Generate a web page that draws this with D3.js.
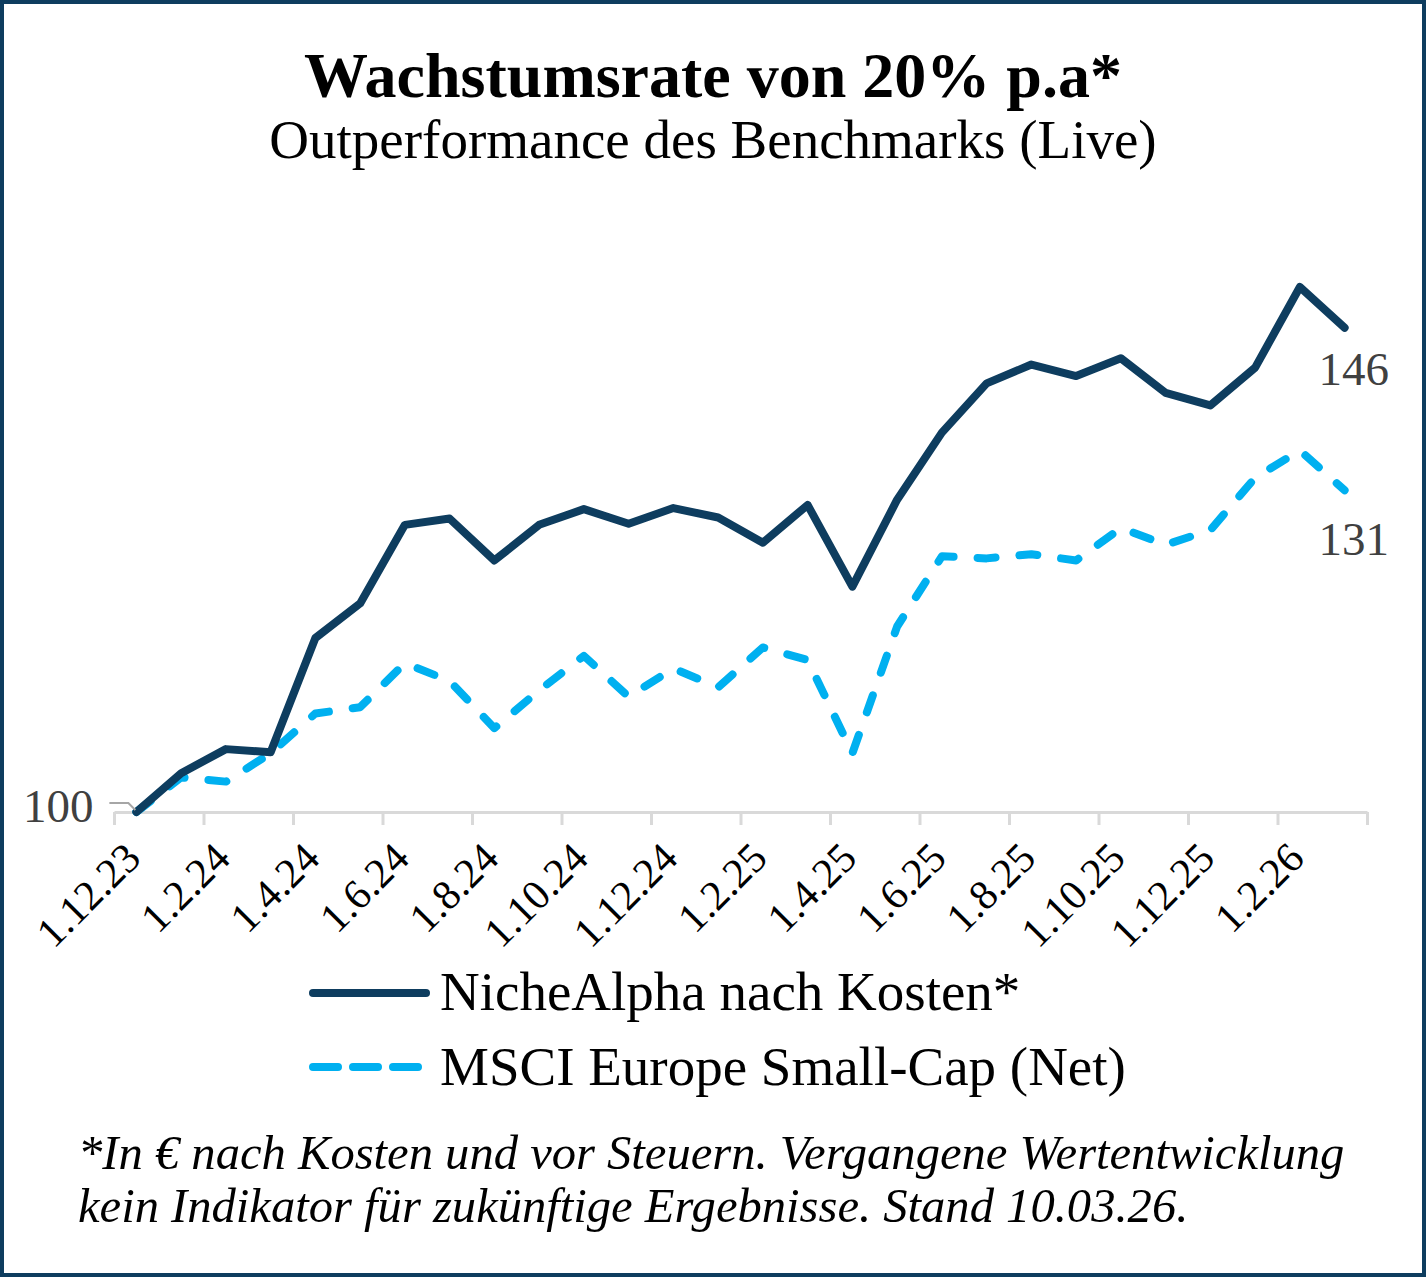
<!DOCTYPE html>
<html lang="de">
<head>
  <title>Wachstumsrate</title>
  <meta charset="UTF-8">
  <style>
    body { margin: 0; background: #fff; }
    svg { display: block; font-family: "Liberation Serif", "Times New Roman", serif; }
  </style>
  <script src="https://cdn.jsdelivr.net/npm/d3@7/dist/d3.min.js"></script>
</head>
<body>
<script>
  // monthly dates, 1.12.23 .. 1.3.26
  var dates = ["1.12.23", "1.1.24", "1.2.24", "1.3.24", "1.4.24", "1.5.24", "1.6.24", "1.7.24",
               "1.8.24", "1.9.24", "1.10.24", "1.11.24", "1.12.24", "1.1.25", "1.2.25", "1.3.25",
               "1.4.25", "1.5.25", "1.6.25", "1.7.25", "1.8.25", "1.9.25", "1.10.25", "1.11.25",
               "1.12.25", "1.1.26", "1.2.26", "1.3.26"];

  var nicheAlpha = [100, 103.7, 106.0, 105.7, 116.6, 119.9, 127.4, 128.0, 124.0, 127.4, 128.9, 127.5,
                    129.0, 128.1, 125.7, 129.3, 121.5, 129.8, 136.2, 140.9, 142.7, 141.6, 143.3, 140.0,
                    138.8, 142.4, 150.1, 146.2];

  var msci = [100, 103.3, 102.9, 105.6, 109.4, 110.0, 114.2, 112.5, 108.0, 111.6, 114.9, 111.0,
              113.7, 111.9, 115.7, 114.5, 105.6, 117.7, 124.4, 124.2, 124.6, 124.0, 127.1, 125.5,
              126.9, 131.9, 134.5, 130.7];

  var seriesNames = ["NicheAlpha nach Kosten*", "MSCI Europe Small-Cap (Net)"];

  var W = 1426, H = 1277;
  var navy = "#0e3d5f", sky = "#00b0f0";

  var svg = d3.select("body").append("svg").attr("width", W).attr("height", H);

  svg.append("rect").attr("x", 2).attr("y", 2).attr("width", W - 4).attr("height", H - 4)
    .attr("fill", "#fff").attr("stroke", navy).attr("stroke-width", 4);

  // titles
  svg.append("text").attr("x", 713).attr("y", 97).attr("text-anchor", "middle")
    .style("font-size", "64px").style("font-weight", "bold")
    .text("Wachstumsrate von 20% p.a*");
  svg.append("text").attr("x", 713).attr("y", 158).attr("text-anchor", "middle")
    .style("font-size", "55px")
    .text("Outperformance des Benchmarks (Live)");

  // scales
  var x = d3.scaleBand().domain(d3.range(dates.length)).range([114, 1367]).padding(0);
  var xEdge = d3.scaleLinear().domain([0, dates.length]).range([114, 1367]);
  var y = d3.scaleLinear().domain([100, 150]).range([812, 288]);
  var cx = function(i) { return x(i) + x.bandwidth() / 2; };

  // axis
  var axis = svg.append("g")
    .attr("transform", "translate(0,812)")
    .call(d3.axisBottom(xEdge).tickValues(d3.range(0, dates.length + 1, 2)).tickFormat("").tickSize(13).tickSizeOuter(0));
  axis.select(".domain").attr("stroke", "#d9d9d9").attr("stroke-width", 3);
  axis.selectAll(".tick line").attr("stroke", "#d9d9d9").attr("stroke-width", 3);

  svg.append("g").selectAll("text")
    .data(dates.map(function(d, i) { return {d: d, i: i}; }).filter(function(d) { return d.i % 2 === 0; }))
    .enter().append("text")
    .attr("transform", function(d) { return "translate(" + (cx(d.i) - 4) + ",850) rotate(-45)"; })
    .attr("text-anchor", "end")
    .attr("dy", "0.35em")
    .style("font-size", "42px")
    .attr("fill", "#000")
    .text(function(d) { return d.d; });

  // lines
  var line = d3.line().x(function(d, i) { return cx(i); }).y(function(d) { return y(d); });

  svg.append("path").datum(msci).attr("d", line)
    .attr("fill", "none").attr("stroke", sky).attr("stroke-width", 8)
    .attr("stroke-linecap", "round").attr("stroke-linejoin", "round")
    .attr("stroke-dasharray", "18,24");

  svg.append("path").datum(nicheAlpha).attr("d", line)
    .attr("fill", "none").attr("stroke", navy).attr("stroke-width", 8)
    .attr("stroke-linecap", "round").attr("stroke-linejoin", "round");

  // data labels
  var last = dates.length - 1;
  svg.append("text").attr("x", cx(last) + 9).attr("y", y(nicheAlpha[last]) + 57)
    .attr("text-anchor", "middle").style("font-size", "47px").attr("fill", "#404040")
    .text(Math.round(nicheAlpha[last]));
  svg.append("text").attr("x", cx(last) + 9).attr("y", y(msci[last]) + 65)
    .attr("text-anchor", "middle").style("font-size", "47px").attr("fill", "#404040")
    .text(Math.round(msci[last]));

  svg.append("path")
    .attr("d", "M" + (cx(0) - 27) + "," + (y(msci[0]) - 9) + "H" + (cx(0) - 8) + "L" + (cx(0) - 1) + "," + (y(msci[0]) - 2))
    .attr("fill", "none").attr("stroke", "#a6a6a6").attr("stroke-width", 2);
  svg.append("text").attr("x", cx(0) - 43).attr("y", y(msci[0]) + 10)
    .attr("text-anchor", "end").style("font-size", "47px").attr("fill", "#404040")
    .text(Math.round(msci[0]));

  // legend
  var legend = svg.append("g");
  legend.append("line").attr("x1", 313).attr("x2", 426).attr("y1", 993).attr("y2", 993)
    .attr("stroke", navy).attr("stroke-width", 8).attr("stroke-linecap", "round");
  legend.append("text").attr("x", 440).attr("y", 1010).style("font-size", "55px").text(seriesNames[0]);
  legend.append("line").attr("x1", 313).attr("x2", 426).attr("y1", 1067).attr("y2", 1067)
    .attr("stroke", sky).attr("stroke-width", 8).attr("stroke-linecap", "round")
    .attr("stroke-dasharray", "25,15");
  legend.append("text").attr("x", 440).attr("y", 1085).style("font-size", "55px").text(seriesNames[1]);

  // footnote
  var foot = svg.append("text").style("font-size", "48.6px").style("font-style", "italic");
  foot.append("tspan").attr("x", 78).attr("y", 1169)
    .text("*In \u20ac nach Kosten und vor Steuern. Vergangene Wertentwicklung");
  foot.append("tspan").attr("x", 78).attr("y", 1222)
    .text("kein Indikator f\u00fcr zuk\u00fcnftige Ergebnisse. Stand 10.03.26.");
</script>
</body>
</html>
